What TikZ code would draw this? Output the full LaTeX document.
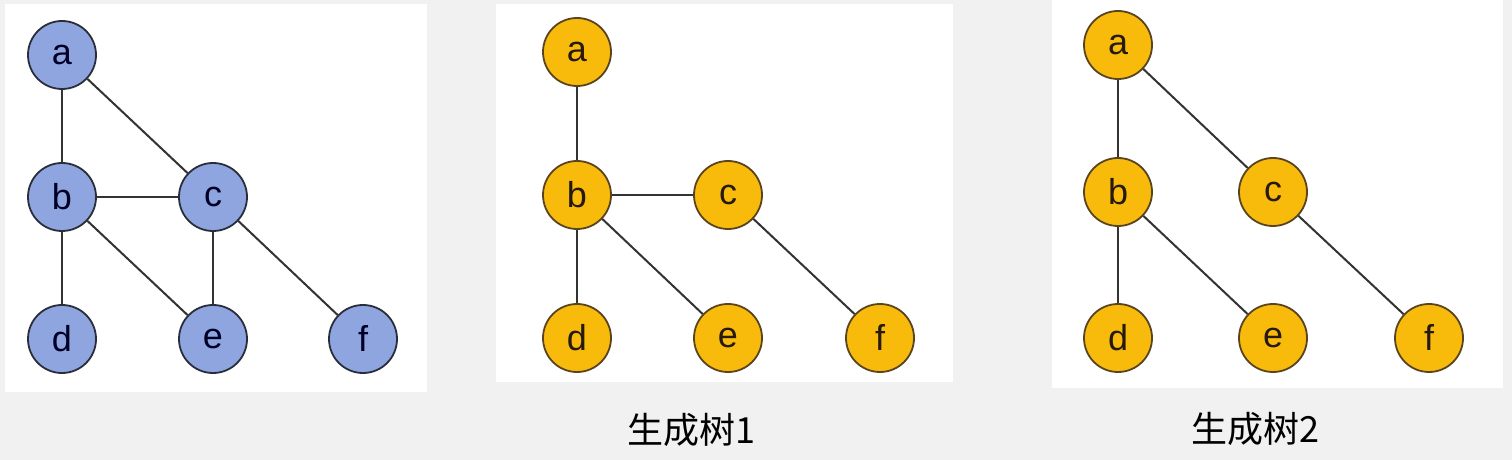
\documentclass[tikz,border=0pt]{standalone}
\usepackage{fontspec}
\setmainfont{Liberation Sans}
\newfontfamily\cjk{Noto Sans CJK SC}
\definecolor{bgc}{HTML}{F1F1F1}
\definecolor{bluefill}{HTML}{8FA5E0}
\definecolor{blueline}{HTML}{2A2E3A}
\definecolor{yelfill}{HTML}{F9BB0B}
\definecolor{yelline}{HTML}{5A4420}
\definecolor{edgec}{HTML}{333333}
\begin{document}
\begin{tikzpicture}[x=1bp,y=-1bp,
  bluenode/.style={circle,draw=blueline,fill=bluefill,line width=1.8bp,minimum size=68bp,inner sep=0pt,text=black!85!blue,font=\fontsize{36bp}{36bp}\selectfont,text depth=0pt},
  yelnode/.style={circle,draw=yelline,fill=yelfill,line width=1.8bp,minimum size=68bp,inner sep=0pt,text=black!80!brown,font=\fontsize{36bp}{36bp}\selectfont,text depth=0pt},
  lowl/.style={text height=18.7bp},
  tall/.style={text height=25.8bp},
  edge/.style={draw=edgec,line width=2bp},
  panel/.style={fill=white,draw=none},
  caption/.style={font=\cjk\fontsize{36bp}{36bp}\selectfont,text=black}]
\fill[bgc] (0,0) rectangle (1512,460);
\useasboundingbox (0,0) rectangle (1512,460);
% panels
\fill[panel] (5,4) rectangle (427,392);
\fill[panel] (496,4) rectangle (953,382);
\fill[panel] (1052,0) rectangle (1503,388);
% graph
\node[bluenode,lowl] (a1) at (62,55) {a};
\node[bluenode,tall] (b1) at (62,197) {b};
\node[bluenode,lowl] (c1) at (213,197) {c};
\node[bluenode,tall] (d1) at (62,339) {d};
\node[bluenode,lowl] (e1) at (213,339) {e};
\node[bluenode,tall] (f1) at (363,339) {f};
\draw[edge] (a1) -- (b1);
\draw[edge] (a1) -- (c1);
\draw[edge] (b1) -- (c1);
\draw[edge] (b1) -- (d1);
\draw[edge] (b1) -- (e1);
\draw[edge] (c1) -- (e1);
\draw[edge] (c1) -- (f1);
% tree 1
\node[yelnode,lowl] (a2) at (577,52) {a};
\node[yelnode,tall] (b2) at (577,195) {b};
\node[yelnode,lowl] (c2) at (728,195) {c};
\node[yelnode,tall] (d2) at (577,338) {d};
\node[yelnode,lowl] (e2) at (728,338) {e};
\node[yelnode,tall] (f2) at (880,338) {f};
\draw[edge] (a2) -- (b2);
\draw[edge] (b2) -- (c2);
\draw[edge] (b2) -- (d2);
\draw[edge] (b2) -- (e2);
\draw[edge] (c2) -- (f2);
\node[caption] (cap1) at (691,430) {生成树1};
% tree 2
\node[yelnode,lowl] (a3) at (1118,45) {a};
\node[yelnode,tall] (b3) at (1118,192) {b};
\node[yelnode,lowl] (c3) at (1273,192) {c};
\node[yelnode,tall] (d3) at (1118,338) {d};
\node[yelnode,lowl] (e3) at (1273,338) {e};
\node[yelnode,tall] (f3) at (1429,338) {f};
\draw[edge] (a3) -- (b3);
\draw[edge] (a3) -- (c3);
\draw[edge] (b3) -- (d3);
\draw[edge] (b3) -- (e3);
\draw[edge] (c3) -- (f3);
\node[caption] (cap2) at (1255,429) {生成树2};
\end{tikzpicture}
\end{document}
